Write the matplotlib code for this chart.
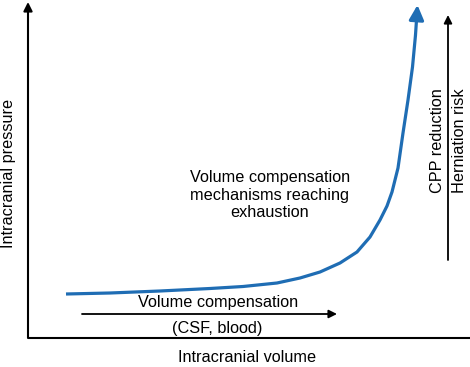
import matplotlib
matplotlib.use("Agg")
import matplotlib.pyplot as plt

plt.rcParams['font.family'] = ['Liberation Sans', 'DejaVu Sans']

# Curve (intracranial volume vs pressure), arbitrary units
volume = [38, 82, 132, 182, 215, 249, 272, 292, 312, 329, 342, 352, 359, 364,
          370, 375, 380, 384.5, 387.5, 389.5]
pressure = [44, 45, 47, 49.5, 51.5, 55, 60, 66, 75, 86, 101, 118, 132, 146,
            170, 205, 238, 271, 303, 333]

x_label = "Intracranial volume"
y_label = "Intracranial pressure"
mid_text = "Volume compensation\nmechanisms reaching\nexhaustion"
comp_top = "Volume compensation"
comp_bottom = "(CSF, blood)"
right_labels = ["CPP reduction", "Herniation risk"]

blue = "#1f6db4"
fs = 11.7

fig = plt.figure(figsize=(4.7, 3.67), dpi=100)
ax = fig.add_axes([28/470, 29/367, 442/470, 336/367])
ax.set_xlim(0, 442)
ax.set_ylim(0, 336)
ax.axis('off')

# axes lines
ax.annotate('', xy=(0, 336), xytext=(0, 0),
            arrowprops=dict(arrowstyle='-|>', color='black', lw=1.5, mutation_scale=13,
                            shrinkA=0, shrinkB=0), annotation_clip=False)
ax.plot([0, 442], [0, 0], color='black', lw=1.5, clip_on=False, solid_capstyle='butt')

# curve
ax.plot(volume[:-1], pressure[:-1], color=blue, lw=2.3, solid_capstyle='butt',
        solid_joinstyle='round', clip_on=False)
ax.annotate('', xy=(volume[-1], pressure[-1]), xytext=(volume[-2], pressure[-2]),
            arrowprops=dict(arrowstyle='-|>', color=blue, lw=2.3, mutation_scale=22,
                            shrinkA=0, shrinkB=0), annotation_clip=False)

# compensation arrow
ax.annotate('', xy=(309, 24), xytext=(54, 24),
            arrowprops=dict(arrowstyle='-|>', color='black', lw=1.3, mutation_scale=12,
                            shrinkA=0, shrinkB=0), annotation_clip=False)
ax.text(190, 35, comp_top, ha='center', va='center', fontsize=fs)
ax.text(189, 9, comp_bottom, ha='center', va='center', fontsize=fs)

# right arrow
ax.annotate('', xy=(420, 323), xytext=(420, 78),
            arrowprops=dict(arrowstyle='-|>', color='black', lw=1.3, mutation_scale=12,
                            shrinkA=0, shrinkB=0), annotation_clip=False)
ax.text(409, 197, right_labels[0], rotation=90, ha='center', va='center', fontsize=fs)
ax.text(432, 197, right_labels[1], rotation=90, ha='center', va='center', fontsize=fs)

# middle text
ax.text(242, 143, mid_text, ha='center', va='center', fontsize=fs, linespacing=1.2)

# axis labels
ax.text(219, -19, x_label, ha='center', va='center', fontsize=fs, clip_on=False)
ax.text(-19, 165, y_label, rotation=90, ha='center', va='center', fontsize=fs, clip_on=False)

fig.savefig("out.png", dpi=100)
